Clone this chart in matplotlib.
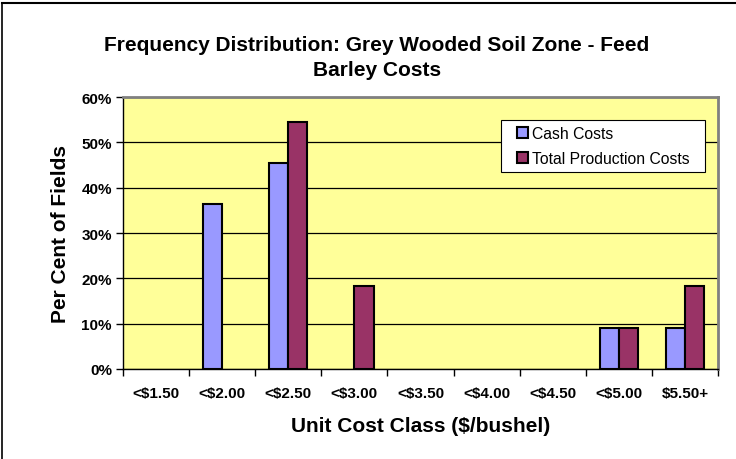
import numpy as np
import matplotlib.pyplot as plt
from matplotlib.lines import Line2D
from matplotlib.patches import Rectangle

plt.rcParams['font.family'] = ['Liberation Sans', 'DejaVu Sans']

# Data
categories = ['<$1.50', '<$2.00', '<$2.50', '<$3.00', '<$3.50', '<$4.00', '<$4.50', '<$5.00', '$5.50+']
cash_costs = [0.0, 36.4, 45.5, 0.0, 0.0, 0.0, 0.0, 9.1, 9.1]
total_costs = [0.0, 0.0, 54.5, 18.2, 0.0, 0.0, 0.0, 9.1, 18.2]

fig = plt.figure(figsize=(7.36, 4.6), dpi=100)
ax = fig.add_axes([123 / 736, 1 - 370 / 460, 595 / 736, 272 / 460])
ax.set_facecolor('#FFFF99')

x = np.arange(len(categories))
w = 0.29
# zero-height classes get no bar
cash = np.array(cash_costs)
total = np.array(total_costs)
ax.bar(x[cash > 0] - w / 2, cash[cash > 0], w, color='#9999FF', edgecolor='black',
       linewidth=1.5, label='Cash Costs', zorder=3)
ax.bar(x[total > 0] + w / 2, total[total > 0], w, color='#993366', edgecolor='black',
       linewidth=1.5, label='Total Production Costs', zorder=3)

ax.set_xlim(-0.5, len(categories) - 0.5)
ax.set_ylim(0, 60)
ax.set_yticks(range(0, 61, 10))
ax.set_yticklabels([f'{v}%' for v in range(0, 61, 10)], fontsize=11, fontweight='bold')
ax.yaxis.grid(True, color='black', linewidth=0.9, zorder=1)
ax.set_axisbelow(True)

ax.set_xticks(x)
ax.set_xticklabels(categories, fontsize=11, fontweight='bold')
ax.tick_params(axis='x', length=0, pad=12)
ax.set_xticks(np.arange(-0.5, len(categories), 1), minor=True)
ax.tick_params(axis='x', which='minor', length=5, width=1, direction='out')
ax.tick_params(axis='y', length=5, width=1, direction='out', pad=3)

for side in ['top', 'right']:
    ax.spines[side].set_color('#808080')
    ax.spines[side].set_linewidth(2)
for side in ['left', 'bottom']:
    ax.spines[side].set_color('black')
    ax.spines[side].set_linewidth(1)

ax.set_xlabel('Unit Cost Class ($/bushel)', fontsize=15, fontweight='bold', labelpad=12)
ax.set_ylabel('Per Cent of Fields', fontsize=15, fontweight='bold', labelpad=8)

fig.text(377 / 736, 1 - 58 / 460,
         'Frequency Distribution: Grey Wooded Soil Zone - Feed\nBarley Costs',
         ha='center', va='center', fontsize=15, fontweight='bold', linespacing=1.45)

# legend box (white, black edge) with the legend entries placed inside it
box = (0.635, 0.7243, 0.343, 0.191)
ax.add_patch(Rectangle(box[:2], box[2], box[3], transform=ax.transAxes,
                       facecolor='white', edgecolor='black', linewidth=0.8, zorder=4))
leg = ax.legend(loc='center left', bbox_to_anchor=box, fontsize=11.3, frameon=False,
                handlelength=0.75, handleheight=0.75, handletextpad=0.25,
                borderpad=0, labelspacing=0.65, borderaxespad=1.0)
leg.set_zorder(5)

# outer frame (top and left edges visible)
fig.add_artist(Line2D([2 / 736, 2 / 736], [0, 1 - 4 / 460], transform=fig.transFigure,
                      color='black', linewidth=1.2))
fig.add_artist(Line2D([2 / 736, 1], [1 - 4 / 460, 1 - 4 / 460], transform=fig.transFigure,
                      color='black', linewidth=1.5))

fig.savefig('out.png', dpi=100)
